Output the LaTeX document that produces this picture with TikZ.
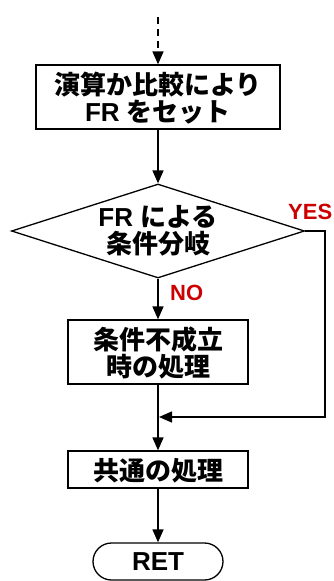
\documentclass[tikz,border=0pt]{standalone}
\usepackage{fontspec}
\setmainfont{Liberation Sans}
\newfontfamily\jp{Noto Sans CJK JP}
\usetikzlibrary{shapes.geometric,shapes.misc,arrows.meta}
\definecolor{lblred}{RGB}{204,0,0}
\tikzset{
  every node/.style={font=\fontsize{26}{27}\selectfont\bfseries, align=center, inner sep=0pt},
  procbox/.style={draw, line width=1.3pt, minimum width=#1, text depth=0pt},
  flow/.style={line width=1.5pt, -{Triangle[length=13pt,width=11pt]}},
  lbl/.style={text=lblred, font=\fontsize{22}{24}\selectfont\bfseries}
}
\begin{document}
\begin{tikzpicture}[x=1pt,y=-1pt]
\useasboundingbox (0,0) rectangle (334,581);
\coordinate (start) at (158,17);
\node[procbox=244pt, minimum height=64pt] (set) at (158,97) {{\jp\bfseries 演算か比較により}\\FR {\jp\bfseries をセット}};
\node[draw, line width=1.3pt, shape=diamond, aspect=3.12, minimum width=293pt, minimum height=94pt] (br) at (158,231) {FR {\jp\bfseries による}\\{\jp\bfseries 条件分岐}};
\node[procbox=180pt, minimum height=64pt] (ng) at (158,352) {{\jp\bfseries 条件不成立}\\{\jp\bfseries 時の処理}};
\node[procbox=180pt, minimum height=37pt] (com) at (158,469.5) {{\jp\bfseries 共通の処理}};
\node[draw, line width=1.3pt, rounded rectangle, minimum width=130pt, minimum height=37pt] (ret) at (158,561.5) {RET};
\coordinate (join) at (158,417);
\coordinate (c1) at (325,231);
\coordinate (c2) at (325,417);
\draw[flow, dashed, dash pattern=on 7pt off 5pt] (start) -- (set.north);
\draw[flow] (set.south) -- (br.north);
\draw[flow] (br.south) -- (ng.north);
\draw[line width=1.5pt] (ng.south) -- (join);
\draw[flow] (join) -- (com.north);
\draw[flow] (com.south) -- (ret.north);
\draw[flow] (br.east) -- (c1) -- (c2) -- ([xshift=1pt]join);
\node[lbl, anchor=south west] (yes) at (288,220) {YES};
\node[lbl, anchor=south west] (no) at (170,301) {NO};
\end{tikzpicture}
\end{document}
